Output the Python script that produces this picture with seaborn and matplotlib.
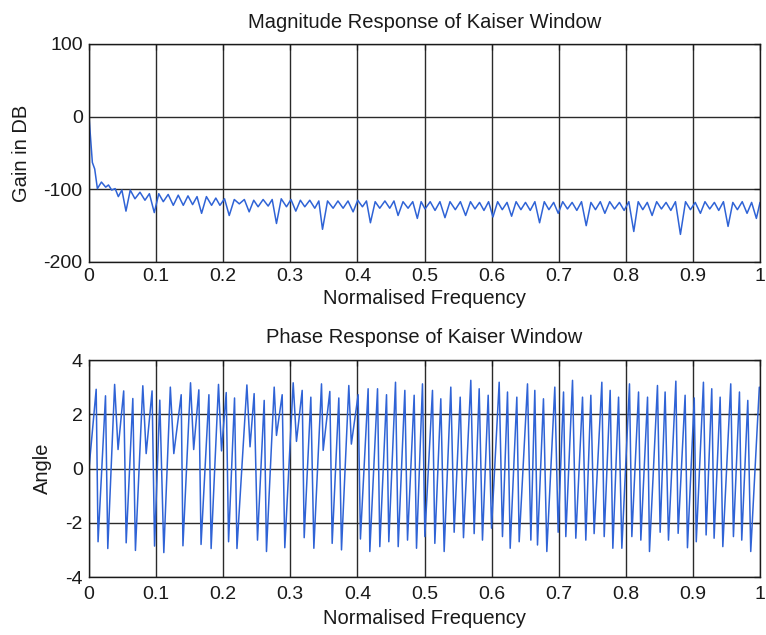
import matplotlib
matplotlib.use("Agg")
import matplotlib.pyplot as plt
import seaborn as sns
import pandas as pd

# Magnitude response: vertices of the sidelobe ripple (normalised frequency, gain in dB)
mag_freq = [
    0.0000, 0.0050, 0.0085, 0.0125, 0.0185, 0.0249, 0.0290, 0.0338, 0.0390, 0.0437,
    0.0490, 0.0551, 0.0615, 0.0685, 0.0760, 0.0834, 0.0900, 0.0973, 0.1040, 0.1107,
    0.1180, 0.1256, 0.1330, 0.1405, 0.1475, 0.1544, 0.1610, 0.1678, 0.1750, 0.1827,
    0.1890, 0.1951, 0.2020, 0.2090, 0.2165, 0.2240, 0.2315, 0.2387, 0.2455, 0.2520,
    0.2595, 0.2670, 0.2730, 0.2794, 0.2865, 0.2943, 0.3010, 0.3082, 0.3150, 0.3216,
    0.3290, 0.3365, 0.3425, 0.3480, 0.3555, 0.3638, 0.3710, 0.3787, 0.3860, 0.3936,
    0.4005, 0.4075, 0.4135, 0.4194, 0.4265, 0.4333, 0.4410, 0.4482, 0.4545, 0.4606,
    0.4680, 0.4755, 0.4825, 0.4893, 0.4950, 0.5008, 0.5085, 0.5157, 0.5230, 0.5305,
    0.5380, 0.5459, 0.5535, 0.5613, 0.5685, 0.5752, 0.5820, 0.5886, 0.5955, 0.6020,
    0.6090, 0.6159, 0.6230, 0.6298, 0.6365, 0.6437, 0.6505, 0.6576, 0.6645, 0.6715,
    0.6785, 0.6854, 0.6925, 0.6993, 0.7060, 0.7131, 0.7200, 0.7270, 0.7340, 0.7410,
    0.7480, 0.7548, 0.7620, 0.7688, 0.7760, 0.7832, 0.7905, 0.7975, 0.8045, 0.8119,
    0.8185, 0.8253, 0.8320, 0.8392, 0.8460, 0.8531, 0.8600, 0.8671, 0.8740, 0.8814,
    0.8890, 0.8963, 0.9035, 0.9112, 0.9180, 0.9251, 0.9320, 0.9385, 0.9455, 0.9524,
    0.9595, 0.9663, 0.9735, 0.9807, 0.9875, 0.9946, 1.0000,
]
mag_db = [
    0, -63, -72, -99, -90, -97, -94, -101, -99, -110,
    -101, -130, -101, -113, -104, -115, -106, -132, -106, -117,
    -107, -122, -108, -122, -109, -121, -110, -133, -110, -122,
    -112, -122, -113, -136, -114, -120, -114, -131, -115, -124,
    -114, -123, -114, -147, -113, -124, -114, -130, -115, -124,
    -115, -126, -116, -155, -116, -126, -116, -126, -116, -131,
    -115, -124, -116, -146, -117, -126, -116, -126, -116, -136,
    -117, -126, -117, -140, -117, -127, -117, -129, -117, -139,
    -117, -128, -117, -136, -117, -127, -118, -129, -117, -138,
    -117, -128, -118, -137, -117, -128, -118, -129, -117, -146,
    -117, -128, -118, -133, -117, -127, -118, -129, -117, -150,
    -118, -128, -117, -133, -117, -127, -118, -129, -117, -158,
    -117, -128, -118, -136, -117, -127, -118, -129, -117, -162,
    -117, -128, -118, -133, -117, -127, -118, -129, -117, -151,
    -118, -128, -117, -133, -118, -140, -118,
]

# Phase response: wrapped phase vertices (normalised frequency, angle in rad)
phase_freq = [
    0.0000, 0.0107, 0.0135, 0.0246, 0.0280, 0.0382, 0.0433, 0.0517, 0.0554, 0.0653,
    0.0692, 0.0802, 0.0852, 0.0940, 0.0977, 0.1055, 0.1115, 0.1212, 0.1264, 0.1374,
    0.1400, 0.1513, 0.1560, 0.1637, 0.1670, 0.1787, 0.1820, 0.1930, 0.1975, 0.2045,
    0.2080, 0.2169, 0.2205, 0.2353, 0.2400, 0.2461, 0.2511, 0.2611, 0.2645, 0.2760,
    0.2794, 0.2879, 0.2918, 0.3043, 0.3092, 0.3177, 0.3207, 0.3306, 0.3351, 0.3465,
    0.3490, 0.3589, 0.3624, 0.3723, 0.3763, 0.3872, 0.3910, 0.4011, 0.4045, 0.4160,
    0.4185, 0.4300, 0.4334, 0.4434, 0.4468, 0.4568, 0.4608, 0.4707, 0.4747, 0.4846,
    0.4881, 0.4970, 0.5005, 0.5119, 0.5154, 0.5243, 0.5293, 0.5392, 0.5442, 0.5532,
    0.5581, 0.5690, 0.5740, 0.5815, 0.5864, 0.5949, 0.5999, 0.6113, 0.6162, 0.6237,
    0.6277, 0.6376, 0.6411, 0.6535, 0.6585, 0.6644, 0.6684, 0.6773, 0.6823, 0.6942,
    0.6992, 0.7072, 0.7106, 0.7206, 0.7255, 0.7355, 0.7404, 0.7479, 0.7528, 0.7643,
    0.7678, 0.7767, 0.7807, 0.7892, 0.7941, 0.8055, 0.8090, 0.8190, 0.8224, 0.8324,
    0.8353, 0.8472, 0.8512, 0.8586, 0.8636, 0.8746, 0.8780, 0.8884, 0.8919, 0.9020,
    0.9050, 0.9157, 0.9197, 0.9281, 0.9316, 0.9406, 0.9446, 0.9564, 0.9604, 0.9694,
    0.9728, 0.9818, 0.9862, 0.9990,
]
phase_angle = [
    0.00, 2.92, -2.70, 2.68, -2.95, 3.10, 0.70, 2.86, -2.74, 2.58,
    -3.02, 3.05, 0.55, 2.86, -2.86, 2.52, -3.10, 3.00, 0.55, 2.72,
    -2.85, 3.16, 0.70, 2.90, -2.80, 2.72, -2.95, 3.10, 0.65, 2.80,
    -2.70, 2.60, -2.95, 3.08, 0.80, 2.76, -2.64, 2.51, -3.06, 3.00,
    1.22, 2.72, -2.92, 3.16, 1.00, 2.88, -2.55, 2.63, -2.94, 3.12,
    0.67, 2.84, -2.76, 2.60, -3.00, 3.06, 0.90, 2.72, -2.60, 2.94,
    -3.06, 2.94, -2.88, 2.72, -2.70, 3.18, -2.88, 2.88, -2.64, 2.70,
    -2.94, 3.12, -2.51, 2.88, -2.76, 2.57, -3.06, 3.00, -2.35, 2.63,
    -2.55, 3.25, -2.40, 2.94, -2.64, 2.70, -2.20, 3.18, -2.51, 2.82,
    -2.94, 2.63, -2.70, 3.12, -2.64, 2.88, -2.82, 2.57, -3.06, 3.00,
    -2.35, 2.82, -2.51, 3.25, -2.57, 2.63, -2.64, 2.70, -2.40, 3.18,
    -2.51, 2.88, -2.94, 2.63, -2.94, 3.12, -2.51, 2.82, -2.64, 2.63,
    -3.06, 3.06, -2.35, 2.82, -2.64, 3.22, -2.39, 2.70, -2.92, 2.60,
    -2.70, 3.18, -2.45, 2.94, -2.57, 2.63, -2.88, 3.12, -2.51, 2.82,
    -2.64, 2.51, -3.06, 3.00,
]

freq_ticks = [0, 0.1, 0.2, 0.3, 0.4, 0.5, 0.6, 0.7, 0.8, 0.9, 1]
freq_labels = ["0", "0.1", "0.2", "0.3", "0.4", "0.5", "0.6", "0.7", "0.8", "0.9", "1"]
gain_ticks = [-200, -100, 0, 100]
angle_ticks = [-4, -2, 0, 2, 4]

mag_df = pd.DataFrame({"freq": mag_freq, "gain": mag_db})
phase_df = pd.DataFrame({"freq": phase_freq, "angle": phase_angle})

sns.set_theme(style="white")
plt.rcParams["font.family"] = ["Liberation Sans", "DejaVu Sans"]
plt.rcParams["axes.unicode_minus"] = False
plt.rcParams["axes.edgecolor"] = "#1a1a1a"
plt.rcParams["axes.linewidth"] = 1.0

LINE = "#2f63d6"
GRID = "#2a2a2a"
W, H = 766, 635

fig = plt.figure(figsize=(W / 100, H / 100), dpi=100)
ax1 = fig.add_axes([89 / W, 1 - 262 / H, 671 / W, 218 / H])
ax2 = fig.add_axes([89 / W, 1 - 577 / H, 671 / W, 217 / H])

sns.lineplot(data=mag_df, x="freq", y="gain", ax=ax1, color=LINE, lw=1.1,
             estimator=None, sort=False)
sns.lineplot(data=phase_df, x="freq", y="angle", ax=ax2, color=LINE, lw=1.1,
             estimator=None, sort=False)

panels = [
    (ax1, gain_ticks, (-200, 100), "Gain in DB", "Magnitude Response of Kaiser Window",
     -0.086, -0.124, 4.0, 11.3),
    (ax2, angle_ticks, (-4, 4), "Angle", "Phase Response of Kaiser Window",
     -0.055, -0.147, 6.4, 12.4),
]
for ax, yt, ylim, ylab, title, ylab_x, xlab_y, xpad, tpad in panels:
    ax.set_xlim(0, 1)
    ax.set_ylim(*ylim)
    ax.set_xticks(freq_ticks)
    ax.set_xticklabels(freq_labels)
    ax.set_yticks(yt)
    ax.grid(True, color=GRID, lw=1.0, ls="-")
    ax.set_axisbelow(True)
    ax.tick_params(axis="both", which="both", direction="in", length=4, width=0.9,
                   top=True, right=True, labelsize=14, colors="#1a1a1a")
    ax.tick_params(axis="x", pad=xpad)
    ax.tick_params(axis="y", pad=4.5)
    ax.set_title(title, fontsize=14.5, pad=tpad, color="#1a1a1a")
    ax.set_xlabel("Normalised Frequency", fontsize=14.5, color="#1a1a1a")
    ax.set_ylabel(ylab, fontsize=14.5, color="#1a1a1a")
    ax.xaxis.set_label_coords(0.5, xlab_y)
    ax.yaxis.set_label_coords(ylab_x, 0.5)
    for s in ax.spines.values():
        s.set_visible(True)

fig.savefig("out.png", dpi=100, facecolor="white")
